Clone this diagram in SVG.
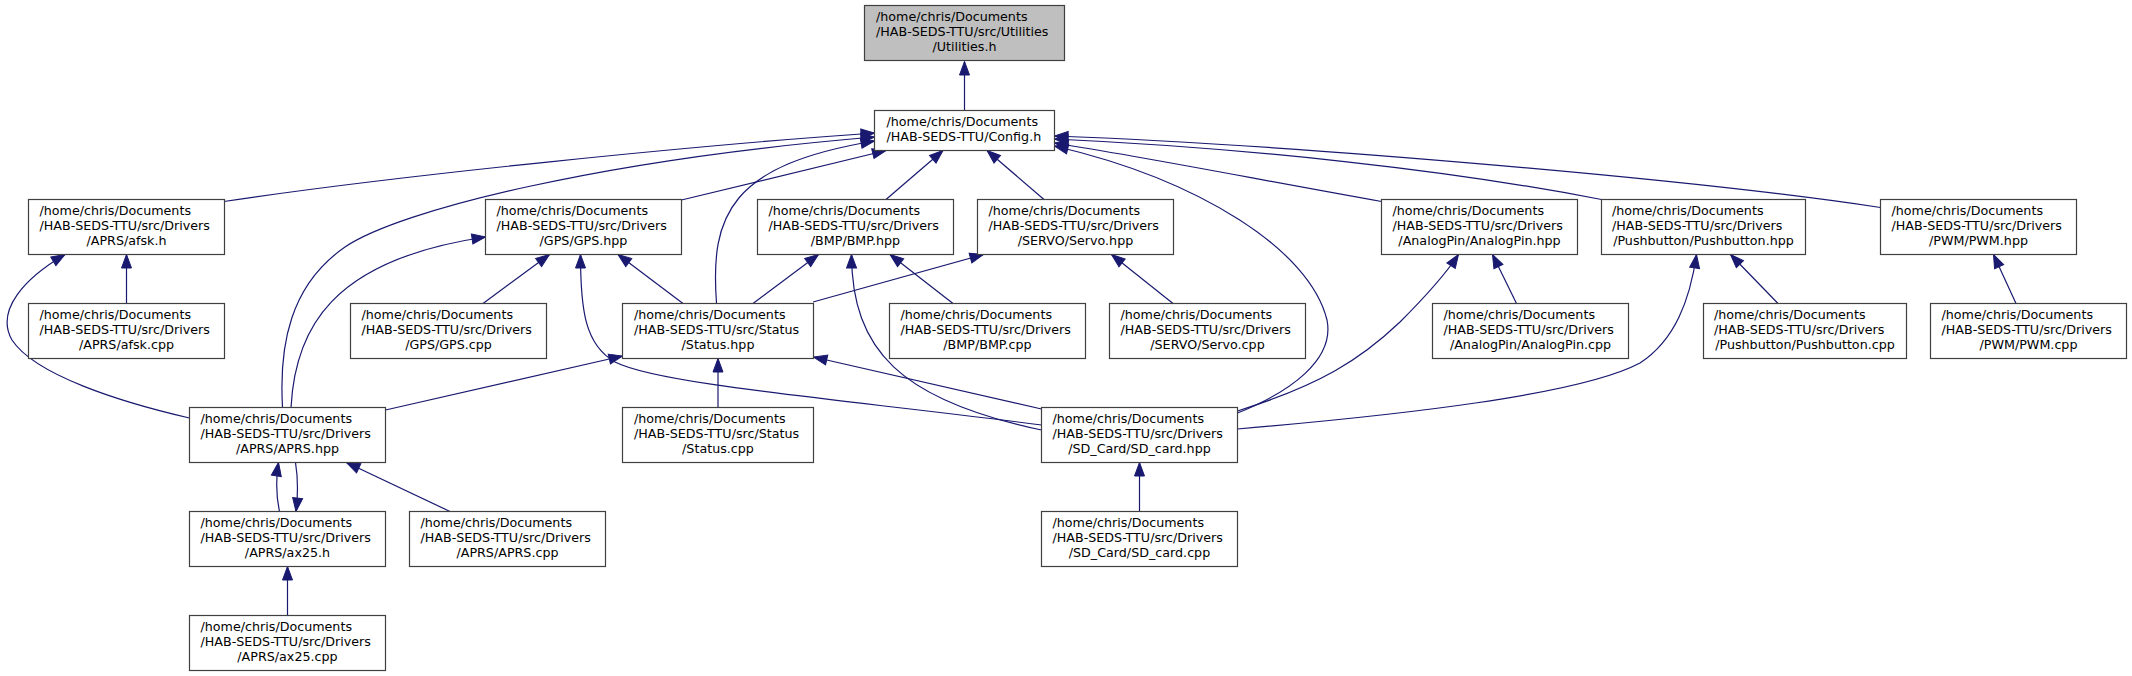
<svg xmlns="http://www.w3.org/2000/svg" width="2132" height="676" viewBox="0 0 2132 676">
<style>
.n rect{fill:#ffffff;stroke:#404040;stroke-width:1.2}
.n.root rect{fill:#bfbfbf}
.n text{font-family:"DejaVu Sans","Liberation Sans",sans-serif;font-size:12.7px;fill:#000}
.c{text-anchor:middle}
#edges path{fill:none;stroke:#191970;stroke-width:1.2;marker-end:url(#a)}
</style>
<defs>
<marker id="a" markerUnits="userSpaceOnUse" markerWidth="16" markerHeight="12" refX="14" refY="5.5" orient="auto" overflow="visible">
<path d="M0.5,0.5 L14,5.5 L0.5,10.5 z" fill="#191970" stroke="#191970" stroke-width="1"/>
</marker>
</defs>
<rect width="2132" height="676" fill="#ffffff"/>
<g id="edges">
<path d="M964.5,110 L964.5,61.5"/>
<path d="M224,201.5 C400,175 700,145 874.5,133"/>
<path d="M282.5,407 C279,345 290,285 345,247 C400,210 600,160 874.5,137"/>
<path d="M716.5,303 C710,215 730,165 874.5,141"/>
<path d="M681.5,200 L886,150.5"/>
<path d="M886,199.5 L943,150.5"/>
<path d="M1044,199.5 L987,150.5"/>
<path d="M1237.5,413 C1290,392 1335,360 1327,320 C1310,250 1200,180 1054.5,146"/>
<path d="M1381.5,201.5 C1250,178 1150,158 1054.5,143"/>
<path d="M1601.5,199.5 C1450,170 1250,148 1054.5,139"/>
<path d="M1880.5,207.5 C1700,180 1300,145 1054.5,136"/>
<path d="M126.5,303.5 L126.5,254.5"/>
<path d="M189.5,418 C120,402 35,375 12,340 C-5,310 25,278 65,254.5"/>
<path d="M483,303.5 L549.5,254.5"/>
<path d="M683,303.5 L618,254.5"/>
<path d="M291,407.5 C295,330 330,260 485.5,237"/>
<path d="M1041.5,425 C850,400 660,385 615,362 C585,345 580.5,310 580.5,254.5"/>
<path d="M753,303.5 L818.5,254.5"/>
<path d="M953,303.5 L890,254.5"/>
<path d="M1041.5,430 C900,400 852,350 851.5,254.5"/>
<path d="M813,302 L983.5,254.5"/>
<path d="M1173,303.5 L1111.5,254.5"/>
<path d="M1516.5,303.5 L1492.5,254.5"/>
<path d="M1237.5,411 C1320,385 1360,360 1400,322 C1425,297 1445,275 1458.5,254.5"/>
<path d="M1778,303.5 L1730.5,254.5"/>
<path d="M1237.5,429 C1400,415 1580,395 1640,363 C1675,340 1690,300 1696.5,254.5"/>
<path d="M2016,303.5 L1993.5,254.5"/>
<path d="M385.5,410 L622.5,356"/>
<path d="M718,407.5 L718,358.5"/>
<path d="M1041.5,409 L813.5,357"/>
<path d="M279.5,511.5 C276,495 276,478 278.5,462.5"/>
<path d="M295.5,462.5 C298,478 298,495 296,511.5"/>
<path d="M450,511.5 L346.5,462.5"/>
<path d="M287.5,615.5 L287.5,566.5"/>
<path d="M1139.5,511.5 L1139.5,462.5"/>
</g>
<g id="utilities_h" class="n root"><rect x="864.5" y="5.5" width="200" height="55"/><text><tspan x="876" y="21">/home/chris/Documents</tspan><tspan x="876" y="36">/HAB-SEDS-TTU/src/Utilities</tspan><tspan class="c" x="964.5" y="51">/Utilities.h</tspan></text></g>
<g id="config_h" class="n"><rect x="874.5" y="110.5" width="180" height="40"/><text><tspan x="886.5" y="126">/home/chris/Documents</tspan><tspan x="886.5" y="141">/HAB-SEDS-TTU/Config.h</tspan></text></g>
<g id="afsk_h" class="n"><rect x="28.5" y="199.5" width="196" height="55"/><text><tspan x="39.5" y="215">/home/chris/Documents</tspan><tspan x="39.5" y="230">/HAB-SEDS-TTU/src/Drivers</tspan><tspan class="c" x="126.5" y="245">/APRS/afsk.h</tspan></text></g>
<g id="gps_hpp" class="n"><rect x="485.5" y="199.5" width="196" height="55"/><text><tspan x="496.5" y="215">/home/chris/Documents</tspan><tspan x="496.5" y="230">/HAB-SEDS-TTU/src/Drivers</tspan><tspan class="c" x="583.5" y="245">/GPS/GPS.hpp</tspan></text></g>
<g id="bmp_hpp" class="n"><rect x="757.5" y="199.5" width="196" height="55"/><text><tspan x="768.5" y="215">/home/chris/Documents</tspan><tspan x="768.5" y="230">/HAB-SEDS-TTU/src/Drivers</tspan><tspan class="c" x="855.5" y="245">/BMP/BMP.hpp</tspan></text></g>
<g id="servo_hpp" class="n"><rect x="977.5" y="199.5" width="196" height="55"/><text><tspan x="988.5" y="215">/home/chris/Documents</tspan><tspan x="988.5" y="230">/HAB-SEDS-TTU/src/Drivers</tspan><tspan class="c" x="1075.5" y="245">/SERVO/Servo.hpp</tspan></text></g>
<g id="analogpin_hpp" class="n"><rect x="1381.5" y="199.5" width="196" height="55"/><text><tspan x="1392.5" y="215">/home/chris/Documents</tspan><tspan x="1392.5" y="230">/HAB-SEDS-TTU/src/Drivers</tspan><tspan class="c" x="1479.5" y="245">/AnalogPin/AnalogPin.hpp</tspan></text></g>
<g id="pushbutton_hpp" class="n"><rect x="1601.5" y="199.5" width="204" height="55"/><text><tspan x="1612" y="215">/home/chris/Documents</tspan><tspan x="1612" y="230">/HAB-SEDS-TTU/src/Drivers</tspan><tspan class="c" x="1703.5" y="245">/Pushbutton/Pushbutton.hpp</tspan></text></g>
<g id="pwm_hpp" class="n"><rect x="1880.5" y="199.5" width="196" height="55"/><text><tspan x="1891.5" y="215">/home/chris/Documents</tspan><tspan x="1891.5" y="230">/HAB-SEDS-TTU/src/Drivers</tspan><tspan class="c" x="1978.5" y="245">/PWM/PWM.hpp</tspan></text></g>
<g id="afsk_cpp" class="n"><rect x="28.5" y="303.5" width="196" height="55"/><text><tspan x="39.5" y="319">/home/chris/Documents</tspan><tspan x="39.5" y="334">/HAB-SEDS-TTU/src/Drivers</tspan><tspan class="c" x="126.5" y="349">/APRS/afsk.cpp</tspan></text></g>
<g id="gps_cpp" class="n"><rect x="350.5" y="303.5" width="196" height="55"/><text><tspan x="361.5" y="319">/home/chris/Documents</tspan><tspan x="361.5" y="334">/HAB-SEDS-TTU/src/Drivers</tspan><tspan class="c" x="448.5" y="349">/GPS/GPS.cpp</tspan></text></g>
<g id="status_hpp" class="n"><rect x="622.5" y="303.5" width="191" height="55"/><text><tspan x="634" y="319">/home/chris/Documents</tspan><tspan x="634" y="334">/HAB-SEDS-TTU/src/Status</tspan><tspan class="c" x="718" y="349">/Status.hpp</tspan></text></g>
<g id="bmp_cpp" class="n"><rect x="889.5" y="303.5" width="196" height="55"/><text><tspan x="900.5" y="319">/home/chris/Documents</tspan><tspan x="900.5" y="334">/HAB-SEDS-TTU/src/Drivers</tspan><tspan class="c" x="987.5" y="349">/BMP/BMP.cpp</tspan></text></g>
<g id="servo_cpp" class="n"><rect x="1109.5" y="303.5" width="196" height="55"/><text><tspan x="1120.5" y="319">/home/chris/Documents</tspan><tspan x="1120.5" y="334">/HAB-SEDS-TTU/src/Drivers</tspan><tspan class="c" x="1207.5" y="349">/SERVO/Servo.cpp</tspan></text></g>
<g id="analogpin_cpp" class="n"><rect x="1432.5" y="303.5" width="196" height="55"/><text><tspan x="1443.5" y="319">/home/chris/Documents</tspan><tspan x="1443.5" y="334">/HAB-SEDS-TTU/src/Drivers</tspan><tspan class="c" x="1530.5" y="349">/AnalogPin/AnalogPin.cpp</tspan></text></g>
<g id="pushbutton_cpp" class="n"><rect x="1703.5" y="303.5" width="203" height="55"/><text><tspan x="1714" y="319">/home/chris/Documents</tspan><tspan x="1714" y="334">/HAB-SEDS-TTU/src/Drivers</tspan><tspan class="c" x="1805" y="349">/Pushbutton/Pushbutton.cpp</tspan></text></g>
<g id="pwm_cpp" class="n"><rect x="1930.5" y="303.5" width="196" height="55"/><text><tspan x="1941.5" y="319">/home/chris/Documents</tspan><tspan x="1941.5" y="334">/HAB-SEDS-TTU/src/Drivers</tspan><tspan class="c" x="2028.5" y="349">/PWM/PWM.cpp</tspan></text></g>
<g id="aprs_hpp" class="n"><rect x="189.5" y="407.5" width="196" height="55"/><text><tspan x="200.5" y="423">/home/chris/Documents</tspan><tspan x="200.5" y="438">/HAB-SEDS-TTU/src/Drivers</tspan><tspan class="c" x="287.5" y="453">/APRS/APRS.hpp</tspan></text></g>
<g id="status_cpp" class="n"><rect x="622.5" y="407.5" width="191" height="55"/><text><tspan x="634" y="423">/home/chris/Documents</tspan><tspan x="634" y="438">/HAB-SEDS-TTU/src/Status</tspan><tspan class="c" x="718" y="453">/Status.cpp</tspan></text></g>
<g id="sd_card_hpp" class="n"><rect x="1041.5" y="407.5" width="196" height="55"/><text><tspan x="1052.5" y="423">/home/chris/Documents</tspan><tspan x="1052.5" y="438">/HAB-SEDS-TTU/src/Drivers</tspan><tspan class="c" x="1139.5" y="453">/SD_Card/SD_card.hpp</tspan></text></g>
<g id="ax25_h" class="n"><rect x="189.5" y="511.5" width="196" height="55"/><text><tspan x="200.5" y="527">/home/chris/Documents</tspan><tspan x="200.5" y="542">/HAB-SEDS-TTU/src/Drivers</tspan><tspan class="c" x="287.5" y="557">/APRS/ax25.h</tspan></text></g>
<g id="aprs_cpp" class="n"><rect x="409.5" y="511.5" width="196" height="55"/><text><tspan x="420.5" y="527">/home/chris/Documents</tspan><tspan x="420.5" y="542">/HAB-SEDS-TTU/src/Drivers</tspan><tspan class="c" x="507.5" y="557">/APRS/APRS.cpp</tspan></text></g>
<g id="sd_card_cpp" class="n"><rect x="1041.5" y="511.5" width="196" height="55"/><text><tspan x="1052.5" y="527">/home/chris/Documents</tspan><tspan x="1052.5" y="542">/HAB-SEDS-TTU/src/Drivers</tspan><tspan class="c" x="1139.5" y="557">/SD_Card/SD_card.cpp</tspan></text></g>
<g id="ax25_cpp" class="n"><rect x="189.5" y="615.5" width="196" height="55"/><text><tspan x="200.5" y="631">/home/chris/Documents</tspan><tspan x="200.5" y="646">/HAB-SEDS-TTU/src/Drivers</tspan><tspan class="c" x="287.5" y="661">/APRS/ax25.cpp</tspan></text></g>
</svg>
